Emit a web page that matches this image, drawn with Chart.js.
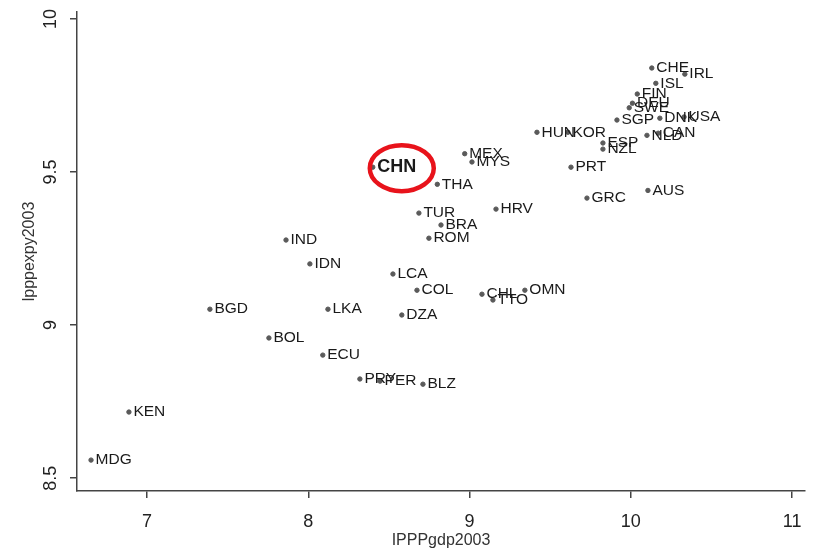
<!DOCTYPE html>
<html>
<head>
<meta charset="utf-8">
<script src="https://cdn.jsdelivr.net/npm/chart.js@4/dist/chart.umd.min.js"></script>
<style>
  body { margin: 0; background: #fff; }
  #wrap { width: 814px; height: 552px; }
</style>
</head>
<body>
<div id="wrap"><canvas id="chart"></canvas></div>
<script>
// country codes and values
var countries = ["CHE","IRL","ISL","FIN","DEU","SWE","SGP","DNK","USA","NLD","CAN",
  "HUN","KOR","ESP","NZL","PRT","GRC","AUS","MEX","MYS","HRV","THA","CHN","TUR",
  "BRA","ROM","IND","IDN","LCA","COL","CHL","TTO","OMN","LKA","DZA","BGD","BOL",
  "ECU","PRY","PER","BLZ","KEN","MDG"];
var gdp = [10.13,10.335,10.155,10.04,10.01,9.99,9.914,10.18,10.33,10.10,10.17,
  9.418,9.61,9.827,9.827,9.629,9.728,10.106,8.97,9.015,9.164,8.80,8.40,8.686,
  8.823,8.748,7.862,8.01,8.525,8.674,9.077,9.145,9.343,8.122,8.58,7.39,7.756,
  8.09,8.32,8.445,8.711,6.888,6.653];
var expy = [9.84,9.82,9.79,9.755,9.725,9.71,9.67,9.676,9.68,9.62,9.627,
  9.63,9.63,9.595,9.575,9.516,9.415,9.44,9.56,9.533,9.379,9.46,9.516,9.366,
  9.327,9.284,9.278,9.20,9.167,9.114,9.101,9.082,9.114,9.052,9.033,9.052,8.958,
  8.902,8.824,8.817,8.807,8.716,8.559];
var xTicks = [7, 8, 9, 10, 11];
var yTicks = [8.5, 9, 9.5, 10];
var highlight = "CHN";

var pts = gdp.map(function(v, i){ return {x: v, y: expy[i]}; });

// country codes next to each dot, plus the red ring round China
var labelPlugin = {
  id: 'labels',
  afterDatasetsDraw: function(chart){
    var ctx = chart.ctx;
    var meta = chart.getDatasetMeta(0);
    ctx.save();
    ctx.textBaseline = 'middle';
    ctx.fillStyle = '#1a1a1a';
    meta.data.forEach(function(pt, i){
      if (countries[i] == highlight) {
        ctx.font = 'bold 18px "Liberation Sans", Arial, sans-serif';
      } else {
        ctx.font = '15.5px "Liberation Sans", Arial, sans-serif';
      }
      ctx.fillText(countries[i], pt.x + 4.5, pt.y);
      if (countries[i] == highlight) {
        ctx.beginPath();
        ctx.strokeStyle = '#e8131b';
        ctx.lineWidth = 4.5;
        ctx.ellipse(pt.x + 29, pt.y + 1, 32, 23, 0, 0, Math.PI * 2);
        ctx.stroke();
      }
    });
    ctx.restore();
  }
};

var tickFont = {family: '"Liberation Sans Narrow", "Liberation Sans", Arial, sans-serif', size: 18};
var titleFont = {family: '"Liberation Sans", Arial, sans-serif', size: 16};

var theChart = new Chart(document.getElementById("chart"), {
  type: 'scatter',
  data: {
    datasets: [{
      data: pts,
      backgroundColor: '#5a5a5a',
      borderColor: '#5a5a5a',
      pointRadius: 2.2,
      pointHoverRadius: 2.2
    }]
  },
  options: {
    responsive: true,
    maintainAspectRatio: false,
    animation: false,
    layout: { padding: {top: 12, right: 9, left: 0, bottom: 0} },
    plugins: { legend: {display: false}, tooltip: {enabled: false} },
    scales: {
      x: {
        type: 'linear',
        min: 6.566, max: 11.08,
        afterBuildTicks: function(s){ s.ticks = xTicks.map(function(v){ return {value: v}; }); },
        afterFit: function(s){ s.height = 61; s.paddingLeft = 0; s.paddingRight = 0; },
        border: { display: true, color: '#444', width: 1.5 },
        grid: { display: true, drawOnChartArea: false, drawTicks: true, tickLength: 7, color: '#444', lineWidth: 1.5 },
        ticks: { color: '#222', font: tickFont, padding: 13, maxRotation: 0,
                 callback: function(v){ return String(v); } },
        title: { display: true, text: 'IPPPgdp2003', color: '#333', font: titleFont, padding: {top: 0, bottom: 2} }
      },
      y: {
        type: 'linear',
        min: 8.458, max: 10.023,
        afterBuildTicks: function(s){ s.ticks = yTicks.map(function(v){ return {value: v}; }); },
        afterFit: function(s){ s.width = 77; s.paddingTop = 0; s.paddingBottom = 0; },
        border: { display: true, color: '#444', width: 1.5 },
        grid: { display: true, drawOnChartArea: false, drawTicks: true, tickLength: 7, color: '#444', lineWidth: 1.5 },
        ticks: { color: '#222', font: tickFont, padding: 6, minRotation: 90, maxRotation: 90,
                 crossAlign: 'center', callback: function(v){ return String(v); } },
        title: { display: true, text: 'lpppexpy2003', color: '#333', font: titleFont, padding: {top: 20, bottom: 0} }
      }
    }
  },
  plugins: [labelPlugin]
});
</script>
</body>
</html>
